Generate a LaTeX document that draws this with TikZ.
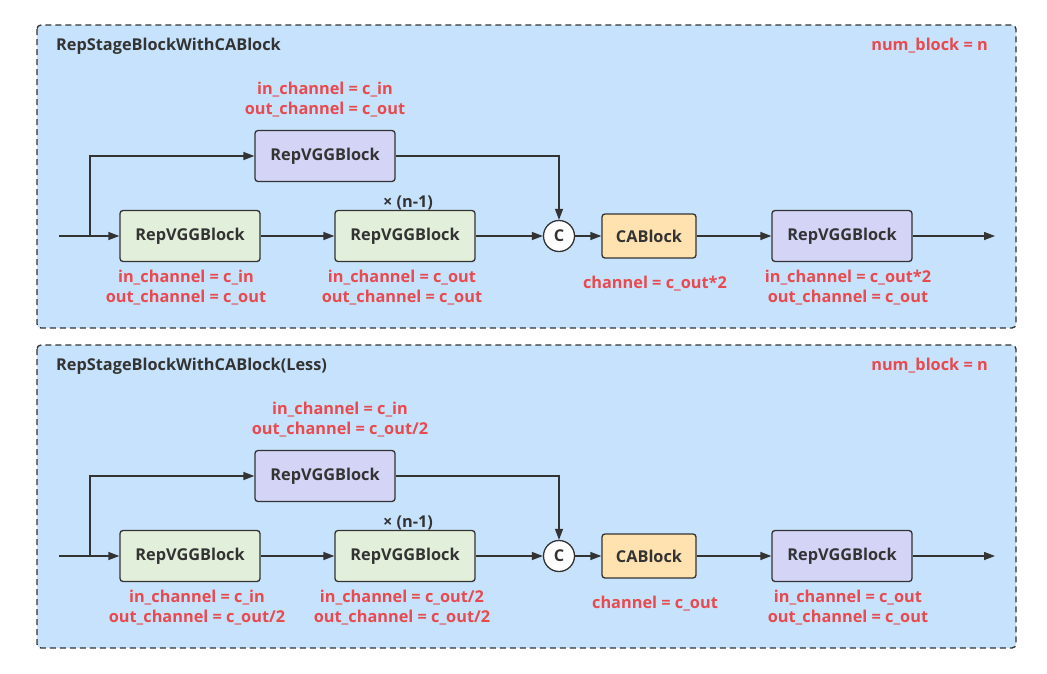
\documentclass[tikz,border=0pt]{standalone}
\usepackage{fontspec}
\setmainfont{Open Sans}
\usetikzlibrary{arrows.meta,positioning}
\definecolor{panelblue}{HTML}{C6E2FC}
\definecolor{greenfill}{HTML}{E2EFDA}
\definecolor{purplefill}{HTML}{D4D5F6}
\definecolor{orangefill}{HTML}{FFE2B0}
\definecolor{redtxt}{HTML}{E84A4E}
\definecolor{darkline}{HTML}{333333}
\tikzset{
  panel/.style={draw=darkline, fill=panelblue, dashed, dash pattern=on 6pt off 4pt, line width=1.3pt, rounded corners=4pt},
  blk/.style={draw=darkline, line width=1.3pt, rounded corners=3pt, minimum width=140pt, minimum height=51pt, inner sep=0pt, font=\fontsize{16.3}{19}\selectfont\bfseries, text=darkline},
  greenblk/.style={blk, fill=greenfill},
  purpleblk/.style={blk, fill=purplefill},
  cablk/.style={blk, fill=orangefill, minimum width=94pt, minimum height=44pt},
  catnode/.style={circle, draw=darkline, fill=white, line width=1.3pt, minimum size=31pt, inner sep=0pt, font=\fontsize{16.3}{19}\selectfont\bfseries, text=darkline},
  redlbl/.style={font=\fontsize{16.3}{20}\selectfont\bfseries, text=redtxt, align=center, inner sep=0pt},
  titlelbl/.style={font=\fontsize{16.3}{19}\selectfont\bfseries, text=darkline, inner sep=0pt},
  timeslbl/.style={font=\fontsize{16.3}{19}\selectfont\bfseries, text=darkline, inner sep=0pt},
  conn/.style={draw=darkline, line width=1.3pt, -{Triangle[length=11pt,width=8pt]}},
}
\begin{document}
\begin{tikzpicture}[x=1pt,y=-1pt]
\useasboundingbox (0,0) rectangle (1047,673);

% ---------- Top panel ----------
\begin{scope}
\path[panel] (37,25) rectangle (1016,328);
\node[titlelbl, anchor=west] (t1) at (56,46) {RepStageBlockWithCABlock};
\node[redlbl, anchor=east] (n1) at (988,46) {num\_block = n};

\coordinate (in1) at (59,236);
\coordinate (br1) at (90,236);
\node[purpleblk] (top1) at (325,156) {RepVGGBlock};
\node[greenblk] (g1a) at (190,236) {RepVGGBlock};
\node[greenblk] (g1b) at (405,236) {RepVGGBlock};
\node[catnode] (c1) at (559,236) {C};
\node[cablk] (ca1) at (649,236) {CABlock};
\node[purpleblk] (p1) at (842,236) {RepVGGBlock};
\coordinate (out1) at (995,236);

\node[redlbl] (lt1) at (325,100) {in\_channel = c\_in\\out\_channel = c\_out};
\node[redlbl] (la1) at (186,288) {in\_channel = c\_in\\out\_channel = c\_out};
\node[redlbl] (lb1) at (402,288) {in\_channel = c\_out\\out\_channel = c\_out};
\node[timeslbl] (x1) at (408,203) {× (n-1)};
\node[redlbl] (lc1) at (655,284) {channel = c\_out*2};
\node[redlbl] (lp1) at (848,288) {in\_channel = c\_out*2\\out\_channel = c\_out};

\draw[conn] (in1) -- (g1a.west);
\draw[conn] (br1) |- (top1.west);
\draw[conn] (g1a) -- (g1b);
\draw[conn] (g1b) -- (c1);
\draw[conn] (top1.east) -| (c1.north);
\draw[conn] (c1) -- (ca1);
\draw[conn] (ca1) -- (p1);
\draw[conn] (p1) -- (out1);
\end{scope}

% ---------- Bottom panel ----------
\begin{scope}
\path[panel] (37,345) rectangle (1016,648);
\node[titlelbl, anchor=west] (t2) at (56,366) {RepStageBlockWithCABlock(Less)};
\node[redlbl, anchor=east] (n2) at (988,366) {num\_block = n};

\coordinate (in2) at (59,556);
\coordinate (br2) at (90,556);
\node[purpleblk] (top2) at (325,476) {RepVGGBlock};
\node[greenblk] (g2a) at (190,556) {RepVGGBlock};
\node[greenblk] (g2b) at (405,556) {RepVGGBlock};
\node[catnode] (c2) at (559,556) {C};
\node[cablk] (ca2) at (649,556) {CABlock};
\node[purpleblk] (p2) at (842,556) {RepVGGBlock};
\coordinate (out2) at (995,556);

\node[redlbl] (lt2) at (340,420) {in\_channel = c\_in\\out\_channel = c\_out/2};
\node[redlbl] (la2) at (197,608) {in\_channel = c\_in\\out\_channel = c\_out/2};
\node[redlbl] (lb2) at (402,608) {in\_channel = c\_out/2\\out\_channel = c\_out/2};
\node[timeslbl] (x2) at (408,523) {× (n-1)};
\node[redlbl] (lc2) at (655,604) {channel = c\_out};
\node[redlbl] (lp2) at (848,608) {in\_channel = c\_out\\out\_channel = c\_out};

\draw[conn] (in2) -- (g2a.west);
\draw[conn] (br2) |- (top2.west);
\draw[conn] (g2a) -- (g2b);
\draw[conn] (g2b) -- (c2);
\draw[conn] (top2.east) -| (c2.north);
\draw[conn] (c2) -- (ca2);
\draw[conn] (ca2) -- (p2);
\draw[conn] (p2) -- (out2);
\end{scope}
\end{tikzpicture}
\end{document}
